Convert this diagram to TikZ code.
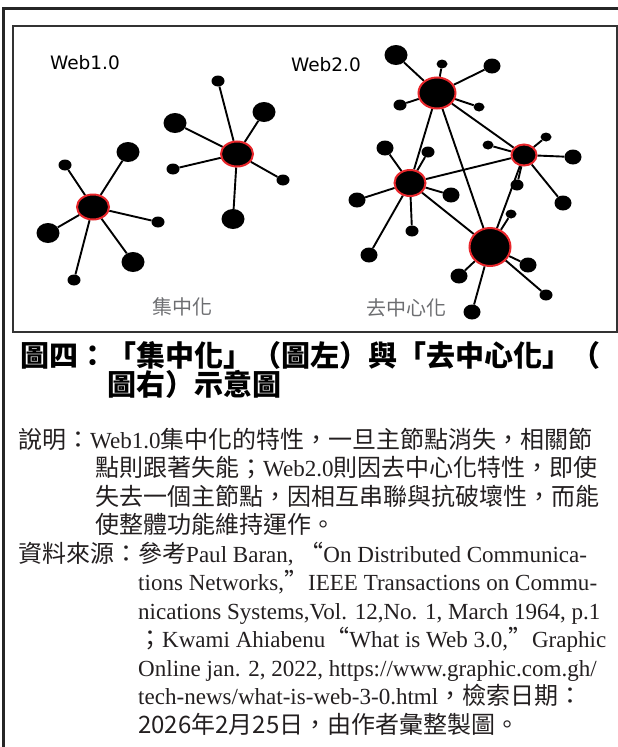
\documentclass[tikz,border=0pt]{standalone}
\usepackage{fontspec}
\setmainfont{Noto Sans CJK TC}
\newfontfamily\latn[Scale=0.96]{Liberation Serif}
\newfontfamily\lblfont{DejaVu Sans}
\usetikzlibrary{shapes.geometric,backgrounds}
\definecolor{ink}{HTML}{231F20}
\definecolor{ringred}{HTML}{E8262B}
\definecolor{capgray}{HTML}{6D6E71}

\begin{document}
\begin{tikzpicture}[x=1pt, y=-1pt,
 hub/.style={ellipse, fill=black, draw=ringred, line width=2pt, inner sep=0},
 leaf/.style={ellipse, fill=black, inner sep=0},
 tiny/.style={minimum width=11pt, minimum height=9pt},
 small/.style={minimum width=13pt, minimum height=11pt},
 mid/.style={minimum width=17pt, minimum height=15pt},
 big/.style={minimum width=23pt, minimum height=20pt},
 line/.style={line width=1.9pt},
 web/.style={font=\lblfont\fontsize{18.5}{22}\selectfont},
 kind/.style={text=capgray, font=\fontsize{20}{24}\selectfont},
 para/.style={anchor=north west, inner sep=0, align=left, text=ink, font=\fontsize{24}{28.5}\selectfont}]
\useasboundingbox (0,0) rectangle (618,747);
% frames
\draw[line width=2.5pt, black!85] (622,8.5) -- (3.5,8.5) -- (3.5,752);
\draw[line width=1.3pt, black!80] (13,26) rectangle (617,332);
% Web1.0: two stars
\node[web] (w1) at (85,63) {Web1.0};
\node[hub, minimum width=32pt, minimum height=25pt] (ha) at (93,207) {};
\node[leaf, small] (a1) at (65,165) {}; \node[leaf, big] (a2) at (128,152) {};
\node[leaf, small] (a3) at (158,222) {}; \node[leaf, big] (a4) at (133,262) {};
\node[leaf, small] (a5) at (74,280) {}; \node[leaf, big] (a6) at (48,233) {};
\node[hub, minimum width=32pt, minimum height=25pt] (hb) at (237,154) {};
\node[leaf, small] (b1) at (218,81) {}; \node[leaf, big] (b2) at (264,112) {};
\node[leaf, big] (b3) at (175,123) {}; \node[leaf, small] (b4) at (173,169) {};
\node[leaf, small] (b5) at (283,180) {}; \node[leaf, big] (b6) at (233,219) {};
\node[kind] (cen) at (182,307) {集中化};
% Web2.0: four linked hubs
\node[web] (w2) at (326,65) {Web2.0};
\node[hub, minimum width=37pt, minimum height=31pt] (top) at (437,93) {};
\node[leaf, big] (t1) at (396,55) {}; \node[leaf, tiny] (t2) at (442,64) {};
\node[leaf, mid] (t3) at (492,66) {}; \node[leaf, small] (t4) at (400,105) {};
\node[leaf, tiny] (t5) at (479,107) {};
\node[hub, minimum width=25pt, minimum height=21pt] (rgt) at (524,155) {};
\node[leaf, tiny] (r1) at (488,145) {}; \node[leaf, tiny] (r2) at (546,137) {};
\node[leaf, mid] (r3) at (573,157) {}; \node[leaf, small] (r4) at (517,185) {};
\node[leaf, mid] (r5) at (563,203) {};
\node[hub, minimum width=31pt, minimum height=26pt] (lft) at (410,183) {};
\node[leaf, mid] (l1) at (385,148) {}; \node[leaf, small] (l2) at (428,152) {};
\node[leaf, mid] (l3) at (451,195) {}; \node[leaf, mid] (l4) at (357,200) {};
\node[leaf, small] (l5) at (412,231) {}; \node[leaf, mid] (l6) at (369,255) {};
\node[hub, minimum width=41pt, minimum height=38pt] (bot) at (490,247) {};
\node[leaf, tiny] (d1) at (511,214) {}; \node[leaf, mid] (d2) at (528,265) {};
\node[leaf, mid] (d3) at (459,276) {}; \node[leaf, small] (d4) at (546,295) {};
\node[leaf, mid] (d5) at (472,312) {};
\node[kind] (dec) at (406,308) {去中心化};
\begin{scope}[on background layer]
\draw[line] (ha)--(a1) (ha)--(a2) (ha)--(a3) (ha)--(a4) (ha)--(a5) (ha)--(a6);
\draw[line] (hb)--(b1) (hb)--(b2) (hb)--(b3) (hb)--(b4) (hb)--(b5) (hb)--(b6);
\draw[line] (top)--(t1) (top)--(t2) (top)--(t3) (top)--(t4) (top)--(t5);
\draw[line] (rgt)--(r1) (rgt)--(r2) (rgt)--(r3) (rgt)--(r4) (rgt)--(r5);
\draw[line] (lft)--(l1) (lft)--(l2) (lft)--(l3) (lft)--(l4) (lft)--(l5) (lft)--(l6);
\draw[line] (bot)--(d1) (bot)--(d2) (bot)--(d3) (bot)--(d4) (bot)--(d5);
\draw[line] (top)--(lft) (top)--(bot) (top)--(rgt) (lft)--(rgt) (lft)--(bot) (rgt)--(bot);
\end{scope}
% caption
\node[anchor=north west, inner sep=0, align=left, text=black, font=\bfseries\fontsize{29}{29.5}\selectfont] (title) at (20,335)
 {\rule{0pt}{31pt}圖四：「集中化」（圖左）與「去中心化」（\\\hspace*{3em}圖右）示意圖};
\node[para] (note) at (18,423)
 {\rule{0pt}{25pt}說明：{\latn Web1.0}集中化的特性，一旦主節點消失，相關節\\
 \hspace*{77pt}點則跟著失能；{\latn Web2.0}則因去中心化特性，即使\\
 \hspace*{77pt}失去一個主節點，因相互串聯與抗破壞性，而能\\
 \hspace*{77pt}使整體功能維持運作。};
\node[para] (src) at (18,537)
 {\rule{0pt}{25pt}資料來源：參考{\latn Paul Baran, }“{\latn On Distributed Communica-}\\
 \hspace*{120pt}{\latn tions Networks,}”{\latn IEEE Transactions on Commu-}\\
 \hspace*{120pt}{\latn nications Systems,Vol. 12,No. 1, March 1964, p.1}\\
 \hspace*{120pt}；{\latn Kwami Ahiabenu}“{\latn What is Web 3.0,}”{\latn Graphic}\\
 \hspace*{120pt}{\latn Online jan. 2, 2022, https://www.graphic.com.gh/}\\
 \hspace*{120pt}{\latn tech-news/what-is-web-3-0.html}，檢索日期：\\
 \hspace*{120pt}2026年2月25日，由作者彙整製圖。};
\end{tikzpicture}
\end{document}
